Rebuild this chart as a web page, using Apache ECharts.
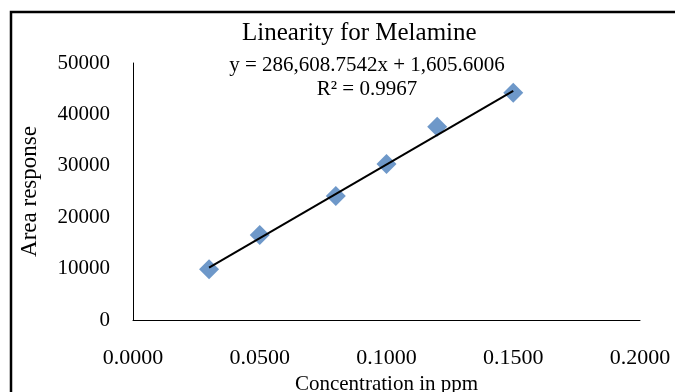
<style>
  html, body { margin: 0; padding: 0; background: #fff; }
</style>
<div id="main" style="width: 675px; height: 392px"></div>
<script src="https://cdn.jsdelivr.net/npm/echarts@6/dist/echarts.min.js"></script>
<script>
  var chartDom = document.getElementById('main');
  var myChart = echarts.init(chartDom);
  var option;

  // concentration (ppm) vs area response
  const conc = [0.03, 0.05, 0.08, 0.1, 0.12, 0.15];
  const area = [9860, 16540, 24120, 30350, 37610, 44220];
  // linear trendline ends, y = 286,608.7542x + 1,605.6006
  const trendX = [0.03, 0.15];
  const trendY = [10204, 44597];

  const font = 'Liberation Serif';

  option = {
    backgroundColor: '#fff',
    textStyle: { fontFamily: font },
    title: {
      left: 237,
      top: 16,
      text: 'Linearity for Melamine',
      textStyle: { fontFamily: font, fontSize: 25, fontWeight: 'normal', color: '#000' },
    },
    graphic: [
      {
        type: 'rect',
        shape: { x: 11, y: 12, width: 680, height: 400 },
        style: { fill: 'none', stroke: '#000', lineWidth: 2.5 },
        silent: true,
      },
      {
        type: 'text',
        x: 367,
        y: 53,
        style: {
          text: 'y = 286,608.7542x + 1,605.6006\nR² = 0.9967',
          font: '21px "Liberation Serif"',
          fill: '#000',
          align: 'center',
          lineHeight: 24,
        },
      },
    ],
    grid: { left: 133, right: 35, top: 63, bottom: 72, outerBoundsMode: 'none' },
    xAxis: {
      type: 'value',
      min: 0,
      max: 0.2,
      interval: 0.05,
      name: 'Concentration in ppm',
      nameLocation: 'middle',
      nameGap: 48,
      nameTextStyle: { fontFamily: font, fontSize: 21, color: '#000' },
      axisLine: { lineStyle: { color: '#000', width: 1 } },
      axisTick: { show: false },
      splitLine: { show: false },
      axisLabel: {
        fontFamily: font,
        fontSize: 22,
        color: '#000',
        margin: 27,
        formatter: (v) => v.toFixed(4),
      },
    },
    yAxis: {
      type: 'value',
      min: 0,
      max: 50000,
      interval: 10000,
      name: 'Area response',
      nameLocation: 'middle',
      nameGap: 92,
      nameTextStyle: { fontFamily: font, fontSize: 23, color: '#000' },
      axisLine: { show: true, lineStyle: { color: '#000', width: 1 } },
      axisTick: { show: false },
      splitLine: { show: false },
      axisLabel: {
        fontFamily: font,
        fontSize: 21,
        color: '#000',
        margin: 23,
        formatter: (v) => String(v),
      },
    },
    series: [
      {
        type: 'scatter',
        data: conc.map((x, i) => [x, area[i]]),
        symbol: 'diamond',
        symbolSize: [20, 20],
        itemStyle: { color: '#4A7EBB' },
        z: 2,
      },
      {
        type: 'line',
        data: trendX.map((x, i) => [x, trendY[i]]),
        symbol: 'none',
        lineStyle: { color: '#000', width: 2 },
        z: 3,
      },
    ],
    animation: false,
  };

  option && myChart.setOption(option);

  window.onresize = function () {
    myChart.resize();
  };
</script>
